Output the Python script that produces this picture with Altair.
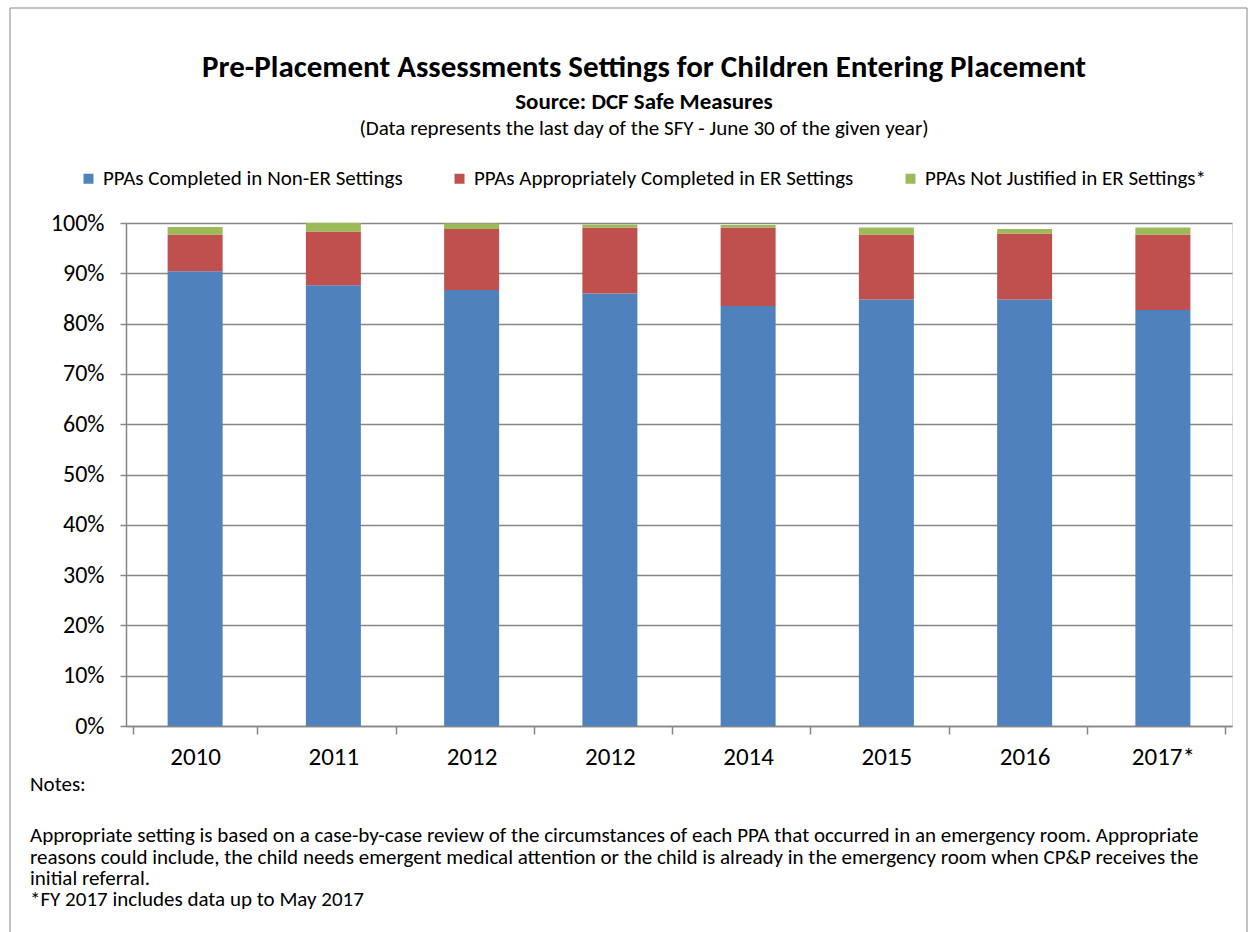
import altair as alt
import pandas as pd

years = ["2010", "2011", "2012", "2012", "2014", "2015", "2016", "2017*"]
series = [
    "PPAs Completed in Non-ER Settings",
    "PPAs Appropriately Completed in ER Settings",
    "PPAs Not Justified in ER Settings*",
]
non_er = [90.4, 87.6, 86.7, 86.0, 83.5, 84.8, 84.8, 82.7]
er_appropriate = [7.3, 10.7, 12.1, 13.1, 15.6, 12.9, 13.1, 15.0]
er_not_justified = [1.5, 1.7, 1.1, 0.6, 0.5, 1.4, 0.9, 1.4]
colors = ["#4F81BD", "#C0504D", "#9BBB59"]

title_text = "Pre-Placement Assessments Settings for Children Entering Placement"
source_text = "Source: DCF Safe Measures"
data_note = "(Data represents the last day of the SFY - June 30 of the given year)"
notes_head_text = "Notes:"
notes = [
    "Appropriate setting is based on a case-by-case review of the circumstances of each PPA that occurred in an emergency room.  Appropriate",
    "reasons could include, the child needs emergent medical attention or the child is already in the emergency room  when CP&P receives the",
    "initial referral.",
    "*FY 2017 includes data up to May 2017",
]

rows = []
for i, y in enumerate(years):
    for k, (name, vals) in enumerate(zip(series, [non_er, er_appropriate, er_not_justified])):
        rows.append({"idx": i, "year": y, "series": name, "order": k, "value": vals[i] / 100})
df = pd.DataFrame(rows)

FONT = "Carlito, Lato, sans-serif"
W, H = 1106, 503
label_js = "[" + ",".join("'" + y + "'" for y in years) + "][datum.value]"

bars = alt.Chart(df).mark_bar(size=55).encode(
    x=alt.X("idx:O", title=None,
            axis=alt.Axis(labelExpr=label_js, labelAngle=0, labelFontSize=25,
                          labelColor="#000", tickBand="extent", tickSize=8,
                          tickColor="#868686", domainColor="#868686", domainWidth=1.5,
                          tickWidth=1.5, labelPadding=10, labelFont=FONT)),
    y=alt.Y("value:Q", stack="zero", title=None,
            scale=alt.Scale(domain=[0, 1], nice=False),
            axis=alt.Axis(format=".0%", values=[i / 10 for i in range(11)],
                          labelFontSize=24, labelColor="#000", labelFont=FONT,
                          gridColor="#868686", gridWidth=1.5, tickColor="#868686",
                          tickSize=6, tickWidth=1.5, domainColor="#868686",
                          domainWidth=1.5, labelPadding=16)),
    color=alt.Color("series:N", title=None,
                    scale=alt.Scale(domain=series, range=colors),
                    legend=alt.Legend(orient="none", legendX=-48, legendY=-55,
                                      direction="horizontal", symbolType="square",
                                      symbolSize=100, symbolStrokeWidth=0,
                                      labelFontSize=21, labelFont=FONT, labelColor="#000",
                                      columnPadding=46, labelLimit=600, labelOffset=4)),
    order=alt.Order("order:Q", sort="ascending"),
)


def text_layer(txt, x, y, size, weight="normal", align="left"):
    return alt.Chart(pd.DataFrame({"t": [txt]})).mark_text(
        fontSize=size, font=FONT, color="#000", align=align, baseline="middle",
        fontWeight=weight).encode(text="t:N", x=alt.value(x), y=alt.value(y))


header = [
    text_layer(title_text, 518, -155, 31, "bold", "center"),
    text_layer(source_text, 518, -121, 23, "bold", "center"),
    text_layer(data_note, 518, -94, 21, "normal", "center"),
]
note_layers = [text_layer(notes_head_text, -96, 562, 21)]
for j, line in enumerate(notes):
    note_layers.append(text_layer(line, -96, [613, 635, 656, 677][j], 21))

frame = alt.Chart(pd.DataFrame({"a": [0]})).mark_rect(
    fill=None, stroke="#868686", strokeWidth=1).encode(
    x=alt.value(-116), x2=alt.value(1121), y=alt.value(-215), y2=alt.value(740))

chart = alt.layer(frame, bars, *header, *note_layers).properties(
    width=W, height=H,
    autosize=alt.AutoSizeParams(type="none"),
    padding={"left": 126, "top": 223, "right": 16, "bottom": 206},
).configure_view(stroke=None).configure(background="white")

chart.save("out.html", embed_options={"renderer": "svg", "actions": False})
